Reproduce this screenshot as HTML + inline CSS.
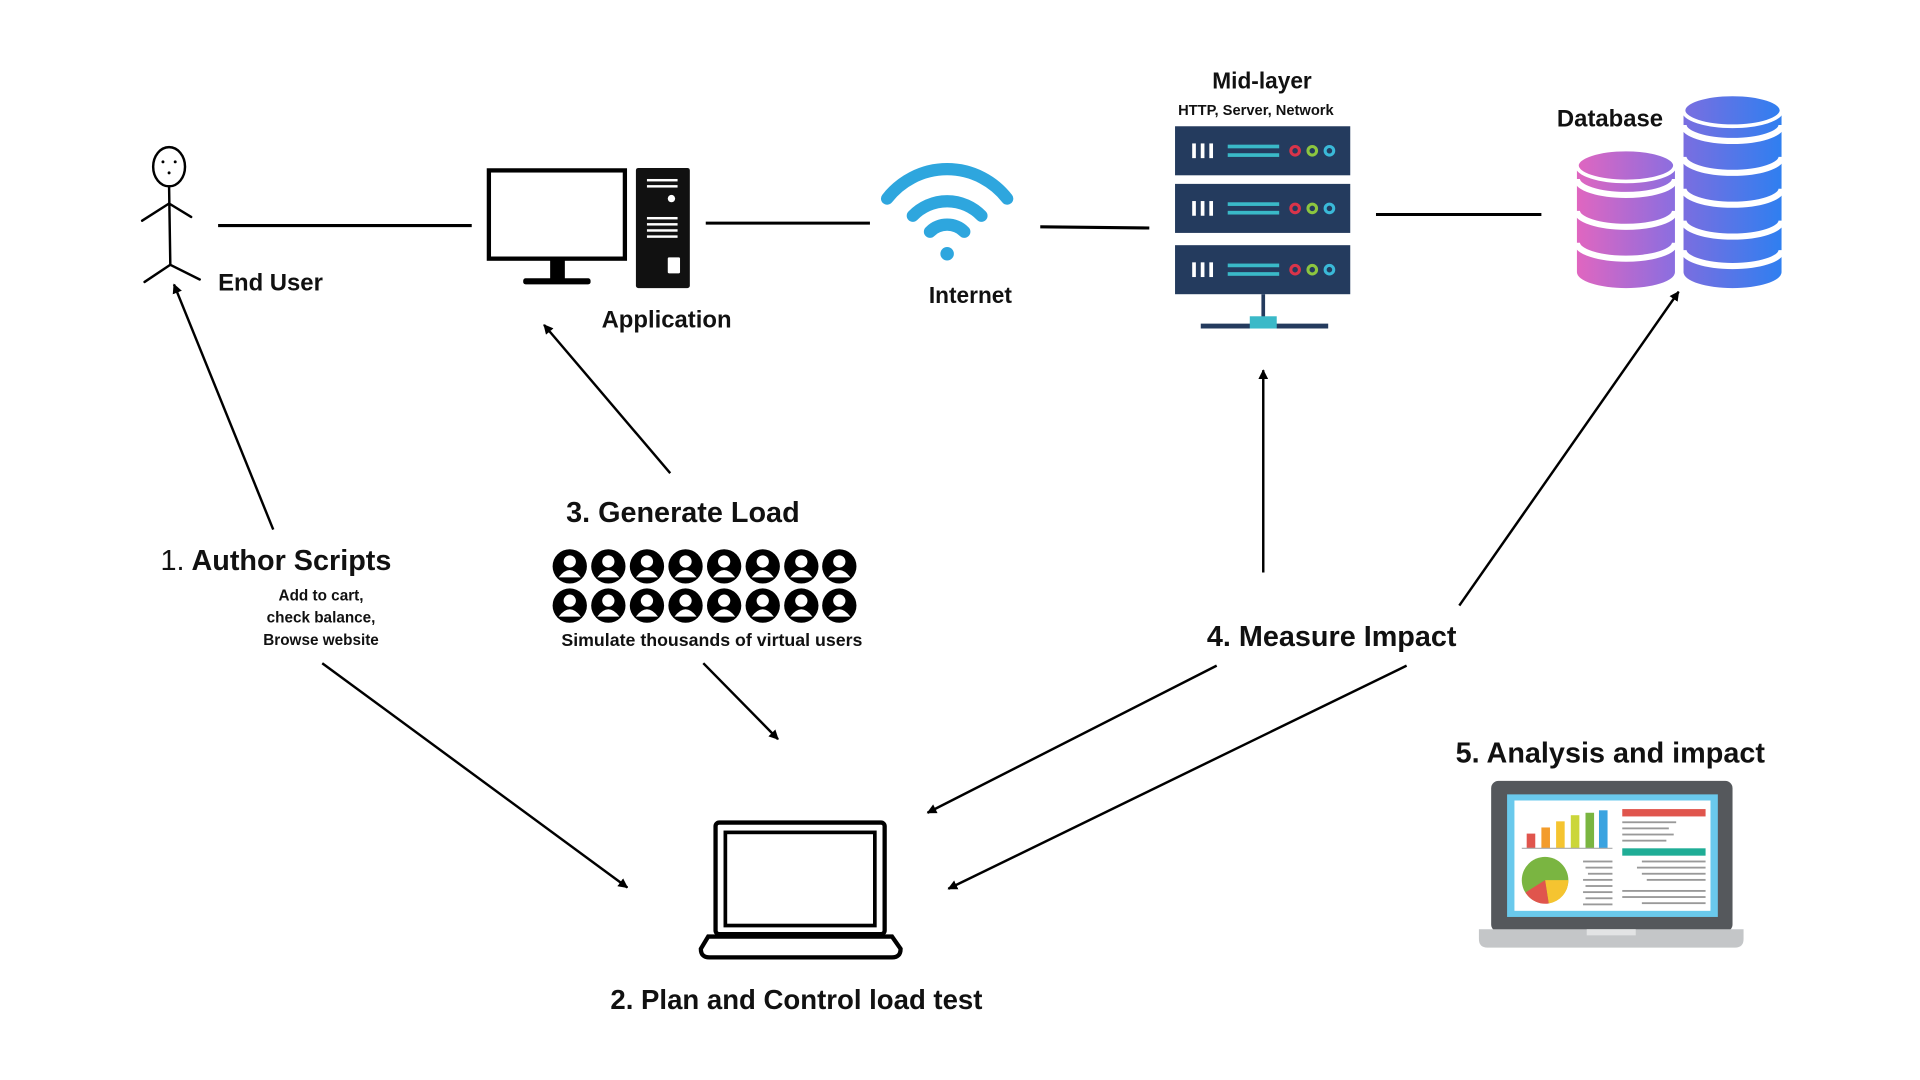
<!DOCTYPE html>
<html><head><meta charset="utf-8"><style>
html,body{margin:0;padding:0;background:#fff;width:1920px;height:1080px;overflow:hidden}
svg{display:block}
text{font-family:"Liberation Sans",sans-serif;font-weight:bold;fill:#111}
</style></head><body>
<svg width="1920" height="1080" viewBox="0 0 1567 881" preserveAspectRatio="none" xmlns="http://www.w3.org/2000/svg">
<defs>
<marker id="ah" viewBox="0 0 10 10" refX="9" refY="5" markerWidth="4" markerHeight="4" orient="auto"><path d="M0,0 L10,5 L0,10 z" fill="#000"/></marker>
<linearGradient id="pk" x1="0" x2="1"><stop offset="0" stop-color="#e066c0"/><stop offset="1" stop-color="#8a6ee0"/></linearGradient>
<linearGradient id="bl" x1="0" x2="1"><stop offset="0" stop-color="#7a6ee0"/><stop offset="1" stop-color="#2f7ff0"/></linearGradient>
<g id="u"><circle r="14" fill="#000"/><circle cx="0" cy="-4" r="5" fill="#fff"/><path d="M-9,9 Q0,-3 9,9 Z" fill="#fff"/></g>
<g id="srv"><rect x="0" y="0" width="143" height="40" fill="#243b5e"/><rect x="14" y="14" width="3" height="12" fill="#fff"/><rect x="21" y="14" width="3" height="12" fill="#fff"/><rect x="28" y="14" width="3" height="12" fill="#fff"/><rect x="43" y="15" width="42" height="3" fill="#3ab9c8"/><rect x="43" y="22" width="42" height="3" fill="#3ab9c8"/><circle cx="98" cy="20" r="3.5" fill="none" stroke="#d9344a" stroke-width="2.5"/><circle cx="112" cy="20" r="3.5" fill="none" stroke="#8cc63f" stroke-width="2.5"/><circle cx="126" cy="20" r="3.5" fill="none" stroke="#3ab9d8" stroke-width="2.5"/></g>
</defs>
<g stroke="#000" stroke-width="2" fill="none" stroke-linecap="round">
<ellipse cx="138" cy="136" rx="13" ry="16"/>
<line x1="138" y1="152" x2="139" y2="216"/>
<line x1="138" y1="166" x2="116" y2="180"/><line x1="138" y1="166" x2="156" y2="177"/>
<line x1="139" y1="216" x2="118" y2="230"/><line x1="139" y1="216" x2="163" y2="228"/>
</g>
<circle cx="133" cy="132" r="1.2"/><circle cx="143" cy="132" r="1.2"/><circle cx="138" cy="141" r="1.2"/>
<g stroke="#000" stroke-width="2.5">
<line x1="178" y1="184" x2="385" y2="184"/><line x1="576" y1="182" x2="710" y2="182"/>
<line x1="849" y1="185" x2="938" y2="186"/><line x1="1123" y1="175" x2="1258" y2="175"/>
</g>
<text x="178" y="237" font-size="19.5">End User</text>
<rect x="399" y="139" width="111" height="72" fill="#fff" stroke="#000" stroke-width="3.5"/>
<rect x="449" y="212" width="12" height="16" fill="#000"/><rect x="427" y="227" width="55" height="5" rx="2" fill="#000"/>
<rect x="519" y="137" width="44" height="98" rx="2" fill="#111"/>
<g fill="#fff"><rect x="528" y="146" width="25" height="2"/><rect x="528" y="151" width="25" height="2"/><circle cx="548" cy="162" r="3"/><rect x="528" y="177" width="25" height="2"/><rect x="528" y="182" width="25" height="2"/><rect x="528" y="187" width="25" height="2"/><rect x="528" y="192" width="25" height="2"/><rect x="545" y="210" width="10" height="13" rx="1"/></g>
<text x="544" y="267" font-size="19.5" text-anchor="middle">Application</text>
<g stroke="#2ea6de" stroke-width="10" fill="none" stroke-linecap="round">
<path d="M759,189 A20,20 0 0 1 787,189"/><path d="M745,176 A39,39 0 0 1 801,176"/><path d="M724,162 A62,62 0 0 1 822,162"/>
</g>
<circle cx="773" cy="207" r="5.5" fill="#2ea6de"/>
<text x="792" y="247" font-size="18.5" text-anchor="middle">Internet</text>
<text x="1030" y="72" font-size="18.5" text-anchor="middle">Mid-layer</text>
<text x="1025" y="94" font-size="12" text-anchor="middle">HTTP, Server, Network</text>
<use href="#srv" x="959" y="103"/><use href="#srv" x="959" y="150"/><use href="#srv" x="959" y="200"/>
<line x1="1031" y1="240" x2="1031" y2="262" stroke="#243b5e" stroke-width="3"/>
<line x1="980" y1="266" x2="1084" y2="266" stroke="#243b5e" stroke-width="4"/>
<rect x="1020" y="258" width="22" height="10" fill="#3ab9c8"/>
<text x="1314" y="103" font-size="19.5" text-anchor="middle">Database</text>
<g>
<path d="M1287,135 L1287,222 A40,13 0 0 0 1367,222 L1367,135 Z" fill="url(#pk)"/>
<g stroke="#fff" stroke-width="5" fill="none"><path d="M1287,146 A40,13 0 0 0 1367,146"/><path d="M1287,172 A40,13 0 0 0 1367,172"/><path d="M1287,198 A40,13 0 0 0 1367,198"/></g>
<ellipse cx="1327" cy="135" rx="40" ry="13" fill="url(#pk)" stroke="#fff" stroke-width="3"/>
</g>
<g>
<path d="M1374,90 L1374,222 A40,13 0 0 0 1454,222 L1454,90 Z" fill="url(#bl)"/>
<g stroke="#fff" stroke-width="5" fill="none"><path d="M1374,102 A40,13 0 0 0 1454,102"/><path d="M1374,128 A40,13 0 0 0 1454,128"/><path d="M1374,154 A40,13 0 0 0 1454,154"/><path d="M1374,180 A40,13 0 0 0 1454,180"/><path d="M1374,204 A40,13 0 0 0 1454,204"/></g>
<ellipse cx="1414" cy="90" rx="40" ry="13" fill="url(#bl)" stroke="#fff" stroke-width="3"/>
</g>
<g stroke="#000" stroke-width="2" marker-end="url(#ah)">
<line x1="223" y1="432" x2="142" y2="232"/>
<line x1="547" y1="386" x2="444" y2="265"/>
<line x1="1031" y1="467" x2="1031" y2="302"/>
<line x1="1191" y1="494" x2="1370" y2="238"/>
<line x1="263" y1="541" x2="512" y2="724"/>
<line x1="574" y1="541" x2="635" y2="603"/>
<line x1="993" y1="543" x2="757" y2="663"/>
<line x1="1148" y1="543" x2="774" y2="725"/>
</g>
<text x="131" y="465" font-size="23.5"><tspan font-weight="normal">1.</tspan> Author Scripts</text>
<text x="262" y="490" font-size="12.5" text-anchor="middle">Add to cart,</text>
<text x="262" y="508" font-size="12.5" text-anchor="middle">check balance,</text>
<text x="262" y="526" font-size="12.5" text-anchor="middle">Browse website</text>
<text x="462" y="426" font-size="23.5">3. Generate Load</text>
<g>
<use href="#u" x="465" y="462"/><use href="#u" x="496.5" y="462"/><use href="#u" x="528" y="462"/><use href="#u" x="559.5" y="462"/><use href="#u" x="591" y="462"/><use href="#u" x="622.5" y="462"/><use href="#u" x="654" y="462"/><use href="#u" x="685" y="462"/>
<use href="#u" x="465" y="494"/><use href="#u" x="496.5" y="494"/><use href="#u" x="528" y="494"/><use href="#u" x="559.5" y="494"/><use href="#u" x="591" y="494"/><use href="#u" x="622.5" y="494"/><use href="#u" x="654" y="494"/><use href="#u" x="685" y="494"/>
</g>
<text x="581" y="527" font-size="14.5" text-anchor="middle">Simulate thousands of virtual users</text>
<text x="985" y="527" font-size="23.5">4. Measure Impact</text>
<text x="1188" y="622" font-size="23.5">5. Analysis and impact</text>
<rect x="584" y="671" width="138" height="91" rx="3" fill="none" stroke="#000" stroke-width="3.5"/>
<rect x="592" y="679" width="122" height="76" fill="none" stroke="#000" stroke-width="3"/>
<path d="M578,764 L728,764 L735,774 Q735,781 728,781 L579,781 Q572,781 572,774 Z" fill="none" stroke="#000" stroke-width="3.5"/>
<text x="650" y="823" font-size="22.5" text-anchor="middle">2. Plan and Control load test</text>
<rect x="1217" y="637" width="197" height="123" rx="6" fill="#55585c"/>
<rect x="1230" y="648" width="172" height="100" fill="#6ac9ec"/>
<rect x="1236" y="653" width="160" height="90" fill="#fff"/>
<path d="M1207,758 L1423,758 L1423,766 Q1423,773 1416,773 L1214,773 Q1207,773 1207,766 Z" fill="#c4c6c8"/>
<rect x="1295" y="758" width="40" height="5" fill="#e2e3e4"/>
<g>
<rect x="1246" y="680" width="7" height="12" fill="#e0554d"/><rect x="1258" y="675" width="7" height="17" fill="#f39c2b"/><rect x="1270" y="670" width="7" height="22" fill="#f5c430"/><rect x="1282" y="665" width="7" height="27" fill="#cbd63a"/><rect x="1294" y="663" width="7" height="29" fill="#7ab541"/><rect x="1305" y="661" width="7" height="31" fill="#3aa3e0"/>
<line x1="1242" y1="692" x2="1316" y2="692" stroke="#aaa" stroke-width="1"/>
<circle cx="1261" cy="718" r="19" fill="#7ab541"/>
<path d="M1261,718 L1280,718 A19,19 0 0 1 1264,737 Z" fill="#f5c430"/>
<path d="M1261,718 L1264,737 A19,19 0 0 1 1245,728 Z" fill="#e0554d"/>
<rect x="1324" y="660" width="68" height="6" fill="#e0554d"/>
<rect x="1324" y="692" width="68" height="6" fill="#1fad96"/>
<g fill="#999"><rect x="1324" y="670" width="44" height="1.5"/><rect x="1324" y="675" width="38" height="1.5"/><rect x="1324" y="680" width="42" height="1.5"/><rect x="1324" y="685" width="36" height="1.5"/>
<rect x="1340" y="702" width="52" height="1.5"/><rect x="1336" y="707" width="56" height="1.5"/><rect x="1340" y="712" width="52" height="1.5"/><rect x="1344" y="717" width="48" height="1.5"/>
<rect x="1324" y="726" width="68" height="1.5"/><rect x="1324" y="731" width="68" height="1.5"/><rect x="1340" y="736" width="52" height="1.5"/>
<rect x="1292" y="702" width="24" height="1.5"/><rect x="1294" y="707" width="22" height="1.5"/><rect x="1296" y="712" width="20" height="1.5"/><rect x="1292" y="717" width="24" height="1.5"/><rect x="1294" y="722" width="22" height="1.5"/><rect x="1292" y="727" width="24" height="1.5"/><rect x="1294" y="732" width="22" height="1.5"/><rect x="1292" y="737" width="24" height="1.5"/></g>
</g>
</svg>
</body></html>
